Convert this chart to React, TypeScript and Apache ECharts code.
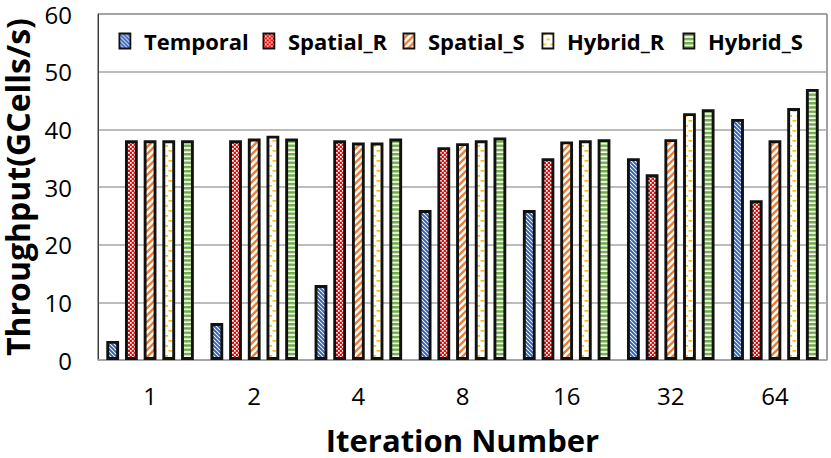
import React, { useEffect, useRef } from "react";
import * as echarts from "echarts";

const categories = ["1", "2", "4", "8", "16", "32", "64"];
const temporal = [3.3, 6.4, 13.0, 26.0, 26.0, 35.0, 41.8];
const spatialR = [38.1, 38.1, 38.1, 36.9, 35.0, 32.2, 27.7];
const spatialS = [38.1, 38.4, 37.7, 37.6, 37.9, 38.3, 38.1];
const hybridR = [38.1, 38.9, 37.7, 38.1, 38.1, 42.8, 43.7];
const hybridS = [38.1, 38.4, 38.4, 38.6, 38.3, 43.5, 47.0];
const seriesNames = ["Temporal", "Spatial_R", "Spatial_S", "Hybrid_R", "Hybrid_S"];

const RES = 4;
function makePattern(w: number, h: number, draw: (ctx: CanvasRenderingContext2D) => void) {
  const c = document.createElement("canvas");
  c.width = Math.round(w * RES);
  c.height = Math.round(h * RES);
  const ctx = c.getContext("2d") as CanvasRenderingContext2D;
  ctx.scale(RES, RES);
  ctx.fillStyle = "#ffffff";
  ctx.fillRect(0, 0, w, h);
  draw(ctx);
  return {
    image: c,
    repeat: "repeat",
    imageWidth: c.width,
    imageHeight: c.height,
    scaleX: 1 / RES,
    scaleY: 1 / RES,
  } as any;
}

function temporalPattern() {
  const p = 4;
  return makePattern(p, p, (ctx) => {
    ctx.strokeStyle = "#3060C0";
    ctx.lineWidth = 1.9;
    for (let k = -1; k <= 1; k++) {
      ctx.beginPath();
      ctx.moveTo(-1, k * p - 1);
      ctx.lineTo(p + 1, p + k * p + 1);
      ctx.stroke();
    }
  });
}
function spatialRPattern() {
  return makePattern(4, 4, (ctx) => {
    ctx.fillStyle = "#FF0000";
    ctx.fillRect(0, 0, 4, 4);
    ctx.fillStyle = "#ffffff";
    ctx.fillRect(0, 0, 1.7, 1.7);
    ctx.fillRect(2, 2, 1.7, 1.7);
  });
}
function spatialSPattern() {
  const p = 7;
  return makePattern(p, p, (ctx) => {
    ctx.strokeStyle = "#ED7D31";
    ctx.lineWidth = 2.4;
    for (let k = 0; k <= 2; k++) {
      ctx.beginPath();
      ctx.moveTo(-1, k * p + 1);
      ctx.lineTo(p + 1, k * p - p - 1);
      ctx.stroke();
    }
  });
}
function hybridRPattern() {
  return makePattern(8, 10, (ctx) => {
    ctx.fillStyle = "#FFC000";
    ctx.fillRect(0.5, 0, 3.8, 1.7);
    ctx.fillRect(4.5, 5, 3.8, 1.7);
  });
}
function hybridSPattern() {
  return makePattern(4, 4.25, (ctx) => {
    ctx.fillStyle = "#70AD47";
    ctx.fillRect(0, 0, 4, 2.6);
  });
}

const FONT = "'Open Sans', 'DejaVu Sans', sans-serif";
const legendLefts = [113.5, 257.5, 397.5, 536.5, 677.5];

export default function App() {
  const ref = useRef<HTMLDivElement>(null);
  useEffect(() => {
    if (!ref.current) return;
    const chart = echarts.init(ref.current, null, { renderer: "svg" });
    const patterns = [temporalPattern(), spatialRPattern(), spatialSPattern(), hybridRPattern(), hybridSPattern()];
    const data = [temporal, spatialR, spatialS, hybridR, hybridS];
    const series = seriesNames.map((name, i) => ({
      name,
      type: "bar",
      data: data[i],
      barWidth: 12.8,
      barGap: "46%",
      itemStyle: {
        color: patterns[i],
        borderColor: "#111111",
        borderWidth: 2.9,
      },
    }));
    const legends = seriesNames.map((name, i) => ({
      data: [name],
      left: legendLefts[i],
      top: 25,
      itemWidth: 28,
      itemHeight: 15,
      icon: "path://M0,0H11V15H0Z",
      textStyle: { fontFamily: FONT, fontSize: 22, fontWeight: "bold", color: "#000" },
      itemStyle: { borderColor: "#111111", borderWidth: 1.8 },
    }));
    chart.setOption({
      animation: false,
      textStyle: { fontFamily: FONT },
      grid: {
        left: 98,
        right: 4,
        top: 14,
        bottom: 98,
        show: true,
        borderColor: "#404040",
        borderWidth: 1,
        outerBoundsMode: "none",
        containLabel: false,
      },
      legend: legends,
      xAxis: {
        type: "category",
        data: categories,
        name: "Iteration Number",
        nameLocation: "middle",
        nameGap: 64,
        nameTextStyle: { fontFamily: FONT, fontSize: 31, lineHeight: 31, fontWeight: "bold", color: "#000" },
        axisLine: { lineStyle: { color: "#A6A6A6", width: 1.5 } },
        axisTick: { show: false },
        axisLabel: { fontFamily: FONT, fontSize: 24, lineHeight: 24, color: "#000", margin: 23 },
      },
      yAxis: {
        type: "value",
        min: 0,
        max: 60,
        interval: 10,
        name: "Throughput(GCells/s)",
        nameLocation: "middle",
        nameGap: 61,
        nameRotate: 90,
        nameTextStyle: { fontFamily: FONT, fontSize: 32, lineHeight: 32, fontWeight: "bold", color: "#000" },
        axisLine: { show: true, lineStyle: { color: "#404040", width: 1 } },
        axisTick: { show: false },
        axisLabel: { fontFamily: FONT, fontSize: 24, lineHeight: 24, color: "#000", margin: 26 },
        splitLine: { lineStyle: { color: "#A6A6A6", width: 1.5 } },
      },
      series,
    });
    return () => chart.dispose();
  }, []);
  return (
    <div
      ref={ref}
      style={{ position: "fixed", left: 0, top: 0, width: 831, height: 458, background: "#fff" }}
    />
  );
}
